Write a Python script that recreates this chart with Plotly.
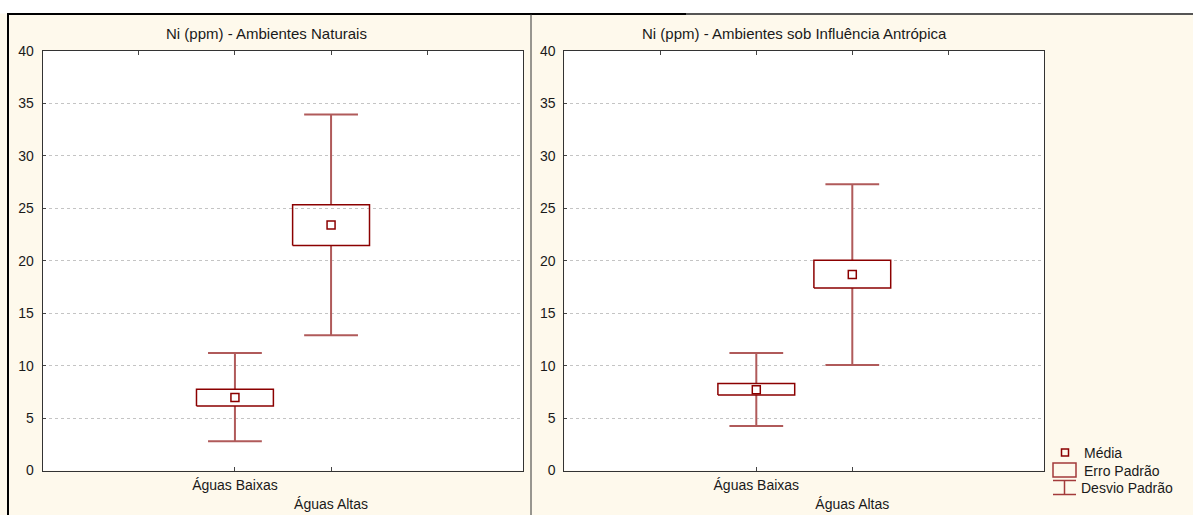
import plotly.graph_objects as go

# ---------------- data ----------------
categories = ["Águas Baixas", "Águas Altas"]
category_ticktext = ["Águas Baixas", "<br>Águas Altas"]
cat_pos = [2, 3]
panel_titles = ["Ni (ppm) - Ambientes Naturais",
                "Ni (ppm) - Ambientes sob Influência Antrópica"]

nat_mean = [6.95, 23.4]
nat_se_low = [6.15, 21.45]
nat_se_high = [7.75, 25.35]
nat_sd_low = [2.8, 12.9]
nat_sd_high = [11.2, 33.95]

ant_mean = [7.7, 18.7]
ant_se_low = [7.2, 17.4]
ant_se_high = [8.3, 20.05]
ant_sd_low = [4.25, 10.05]
ant_sd_high = [11.2, 27.3]

y_ticks = [0, 5, 10, 15, 20, 25, 30, 35, 40]
top_ticks = [1, 2, 3, 4]
legend_labels = ["Média", "Erro Padrão", "Desvio Padrão"]

# ---------------- style ----------------
W, H = 1193, 515
FONT = "Liberation Sans, Arial, sans-serif"
TXT = "#1a1a1a"
CREAM = "#FEF9EC"
BOXC = "#8B0000"
WHISK = "#B05A5A"
BOX_HW = 0.4
CAP_HW = 0.28


def px(x):
    return x / W


def py(y):
    return 1 - y / H


panels = [
    dict(mean=nat_mean, se_lo=nat_se_low, se_hi=nat_se_high, sd_lo=nat_sd_low, sd_hi=nat_sd_high,
         xl=42.7, xr=523.3, title_x=266),
    dict(mean=ant_mean, se_lo=ant_se_low, se_hi=ant_se_high, sd_lo=ant_sd_low, sd_hi=ant_sd_high,
         xl=564.3, xr=1044.3, title_x=794),
]
y_top, y_bot = 51, 470.5

fig = go.Figure()
layout = dict(
    width=W, height=H, autosize=False,
    margin=dict(l=0, r=0, t=0, b=0, pad=0),
    paper_bgcolor=CREAM, plot_bgcolor="white",
    showlegend=False,
    font=dict(family=FONT, size=14, color=TXT),
    shapes=[], annotations=[],
)

for k, p in enumerate(panels):
    n = k + 1
    xa = "x" if n == 1 else f"x{n}"
    ya = "y" if n == 1 else f"y{n}"
    xtop = f"x{n + 2}"

    # whiskers (standard deviation)
    wx, wy = [], []
    for c, lo, hi, slo, shi in zip(cat_pos, p["sd_lo"], p["sd_hi"], p["se_lo"], p["se_hi"]):
        wx += [c, c, None, c, c, None,
               c - CAP_HW, c + CAP_HW, None, c - CAP_HW, c + CAP_HW, None]
        wy += [lo, slo, None, shi, hi, None, lo, lo, None, hi, hi, None]
    fig.add_trace(go.Scatter(x=wx, y=wy, mode="lines", xaxis=xa, yaxis=ya,
                             line=dict(color=WHISK, width=2), hoverinfo="skip"))
    # boxes (standard error)
    bx, by = [], []
    for c, lo, hi in zip(cat_pos, p["se_lo"], p["se_hi"]):
        bx += [c - BOX_HW, c + BOX_HW, c + BOX_HW, c - BOX_HW, c - BOX_HW, None]
        by += [lo, lo, hi, hi, lo, None]
    fig.add_trace(go.Scatter(x=bx, y=by, mode="lines", xaxis=xa, yaxis=ya,
                             line=dict(color=BOXC, width=1.5), hoverinfo="skip"))
    # means
    fig.add_trace(go.Scatter(x=cat_pos, y=p["mean"], mode="markers", xaxis=xa, yaxis=ya,
                             marker=dict(symbol="square-open", size=8,
                                         color=BOXC, line=dict(color=BOXC, width=1.5)),
                             hoverinfo="skip"))
    # invisible trace for top tick axis
    fig.add_trace(go.Scatter(x=[None], y=[None], xaxis=xtop, yaxis=ya, hoverinfo="skip"))

    dom_x = [px(p["xl"]), px(p["xr"])]
    dom_y = [py(y_bot), py(y_top)]
    layout["xaxis" if n == 1 else f"xaxis{n}"] = dict(
        domain=dom_x, anchor=ya, range=[0, 5], tickvals=cat_pos, ticktext=category_ticktext,
        ticks="inside", ticklen=4, tickcolor="#444", showgrid=False, zeroline=False,
        showline=True, linecolor="#333", linewidth=1, mirror=True, automargin=False,
        ticklabelstandoff=2, tickfont=dict(size=14, color=TXT), fixedrange=True)
    layout["yaxis" if n == 1 else f"yaxis{n}"] = dict(
        domain=dom_y, anchor=xa, range=[0, 40], tickvals=y_ticks,
        ticks="inside", ticklen=3, tickcolor="#444",
        showgrid=True, gridcolor="#c4c4c4", griddash="dot", gridwidth=1,
        zeroline=False, showline=True, linecolor="#333", linewidth=1, mirror=True,
        automargin=False,
        ticklabelstandoff=5, tickfont=dict(size=14, color=TXT), fixedrange=True)
    layout[f"xaxis{n + 2}"] = dict(
        overlaying=xa, anchor=ya, side="top", range=[0, 5], tickvals=top_ticks,
        ticks="inside", ticklen=4, tickcolor="#444", showticklabels=False,
        showgrid=False, zeroline=False, showline=False, automargin=False, fixedrange=True)

    layout["annotations"].append(dict(
        text=panel_titles[k], x=px(p["title_x"]), y=py(33), xref="paper", yref="paper",
        xanchor="center", yanchor="middle", showarrow=False,
        font=dict(size=15, color=TXT, family=FONT)))

# ---------------- frame ----------------
S = layout["shapes"]
S.append(dict(type="rect", xref="paper", yref="paper", x0=0, x1=1, y0=py(13.5), y1=1,
              fillcolor="white", line=dict(width=0), layer="below"))
S.append(dict(type="line", xref="paper", yref="paper", x0=px(7.5), x1=px(686), y0=py(14), y1=py(14),
              line=dict(color="black", width=2)))
S.append(dict(type="line", xref="paper", yref="paper", x0=px(686), x1=1, y0=py(14), y1=py(14),
              line=dict(color="#555555", width=2)))
S.append(dict(type="line", xref="paper", yref="paper", x0=px(8), x1=px(8), y0=0, y1=py(13),
              line=dict(color="black", width=2)))
S.append(dict(type="line", xref="paper", yref="paper", x0=px(531), x1=px(531), y0=0, y1=py(14),
              line=dict(color="#333333", width=1)))

# ---------------- legend ----------------
S.append(dict(type="rect", xref="paper", yref="paper", x0=px(1061.5), x1=px(1068.5),
              y0=py(456), y1=py(449), line=dict(color=BOXC, width=1.5)))
S.append(dict(type="rect", xref="paper", yref="paper", x0=px(1053), x1=px(1076),
              y0=py(477), y1=py(463), line=dict(color="#A33A3A", width=1.5)))
for (x0, x1, y0, y1) in [(1053, 1076, 480.5, 480.5), (1053, 1076, 494.5, 494.5),
                         (1064.5, 1064.5, 480.5, 494.5)]:
    S.append(dict(type="line", xref="paper", yref="paper", x0=px(x0), x1=px(x1),
                  y0=py(y0), y1=py(y1), line=dict(color="#A33A3A", width=1.5)))
for lbl, lx, ly in zip(legend_labels, [1082, 1082, 1078.5], [452.5, 470.5, 488]):
    layout["annotations"].append(dict(
        text=lbl, x=px(lx), y=py(ly), xref="paper", yref="paper", xanchor="left",
        yanchor="middle", showarrow=False, font=dict(size=14, color=TXT, family=FONT)))

fig.update_layout(**layout)
fig.write_html("out.html", config={"displayModeBar": False},
               post_script="document.body.style.margin='0';document.body.style.overflow='hidden';")
